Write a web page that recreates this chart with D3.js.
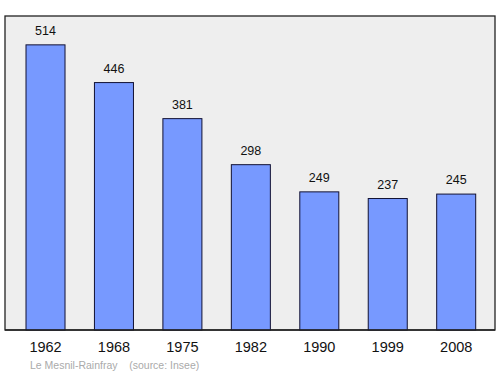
<!DOCTYPE html>
<html><head><meta charset="utf-8">
<script src="https://cdn.jsdelivr.net/npm/d3@7"></script>
<style>body{margin:0;background:#fff}svg{display:block;font-family:"Liberation Sans",Arial,sans-serif}</style>
</head><body>
<svg id="c" width="500" height="374"></svg>
<script>
const years = ["1962","1968","1975","1982","1990","1999","2008"];
const population = [514,446,381,298,249,237,245];
const footer = "Le Mesnil-Rainfray    (source: Insee)";

const svg = d3.select("#c");
const frame = {x0:5, x1:495, y0:16, y1:330};
svg.append("rect").attr("x",frame.x0).attr("y",frame.y0)
  .attr("width",frame.x1-frame.x0).attr("height",frame.y1-frame.y0)
  .attr("fill","#eeeeee").attr("stroke","#222").attr("stroke-width",1.3);

const x = d3.scaleBand().domain(years).range([26,475.7]).paddingInner(0.43).paddingOuter(0);
const y = d3.scaleLinear().domain([0,566]).range([frame.y1,frame.y0]);

const data = years.map((yr,i)=>({yr, v:population[i]}));
svg.selectAll("rect.bar").data(data).enter().append("rect").attr("class","bar")
  .attr("x",d=>x(d.yr)).attr("y",d=>y(d.v))
  .attr("width",x.bandwidth()).attr("height",d=>y(0)-y(d.v))
  .attr("fill","#7799ff").attr("stroke","#111133").attr("stroke-width",1);

svg.selectAll("text.val").data(data).enter().append("text").attr("class","val")
  .attr("x",d=>x(d.yr)+x.bandwidth()/2).attr("y",d=>y(d.v)-10)
  .attr("text-anchor","middle").attr("font-size",12.5).attr("fill","#111").text(d=>d.v);

svg.append("line").attr("x1",frame.x0).attr("x2",frame.x1).attr("y1",frame.y1).attr("y2",frame.y1)
  .attr("stroke","#222").attr("stroke-width",1.3);

const ax = svg.append("g").attr("transform",`translate(0,${frame.y1})`)
  .call(d3.axisBottom(x).tickSize(0).tickPadding(11.5));
ax.select(".domain").remove();
ax.selectAll("text").attr("font-size",14.5).attr("fill","#111").attr("font-family","Liberation Sans, Arial, sans-serif");

svg.append("text").attr("x",30).attr("y",369).attr("font-size",10.5).attr("fill","#aaaaaa")
  .attr("xml:space","preserve").style("white-space","pre").text(footer);
</script>
</body></html>
